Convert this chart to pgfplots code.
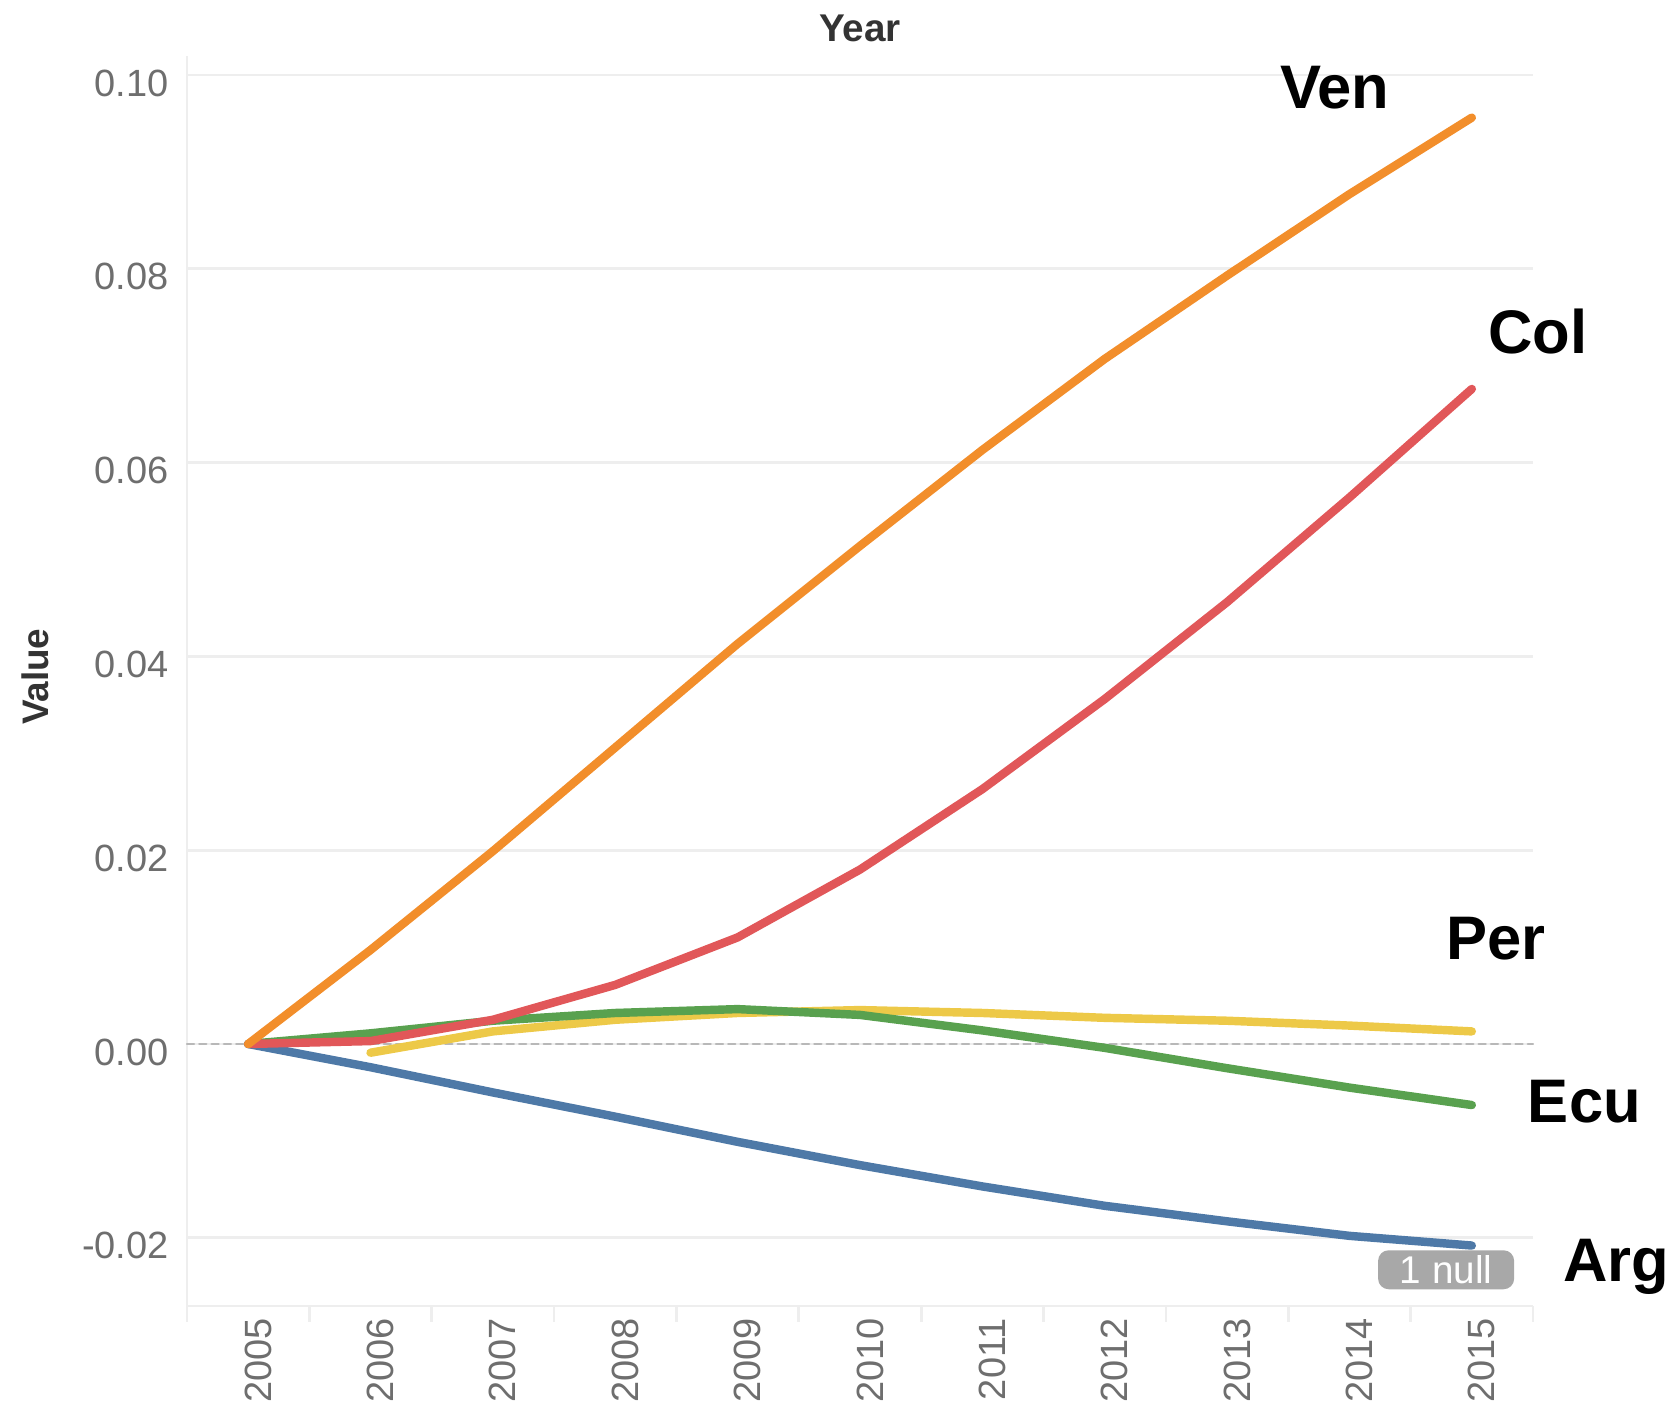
\documentclass[border=0pt]{standalone}
\usepackage{fontspec}
\setmainfont{Liberation Sans}
\usepackage{pgfplots}
\pgfplotsset{compat=1.18}

\definecolor{ven}{HTML}{F28E2B}
\definecolor{col}{HTML}{E15759}
\definecolor{ecu}{HTML}{59A14F}
\definecolor{per}{HTML}{EDC948}
\definecolor{arg}{HTML}{4E79A7}
\definecolor{gridc}{HTML}{EEEEEE}
\definecolor{tickc}{HTML}{6E6E6E}
\definecolor{titc}{HTML}{333333}
\definecolor{zeroc}{HTML}{B8B8B8}
\definecolor{nullc}{HTML}{A8A8A8}

\tikzset{lab/.style={anchor=base, font=\bfseries\fontsize{17.5}{20}\selectfont, text=black}}

\begin{document}
\begin{tikzpicture}
\begin{axis}[
    name=ax, at={(0,0)}, anchor=south west,
    scale only axis,
    width=13.46cm, height=12.50cm,
    xmin=2004.5, xmax=2015.5,
    ymin=-0.02704, ymax=0.10196,
    clip=false,
    axis lines*=left,
    axis line style={draw=gridc, line width=0.8pt},
    xtick={2005,2006,2007,2008,2009,2010,2011,2012,2013,2014,2015},
    xticklabels={2005,2006,2007,2008,2009,2010,2011,2012,2013,2014,2015},
    minor xtick={2004.5,2005.5,2006.5,2007.5,2008.5,2009.5,2010.5,2011.5,2012.5,2013.5,2014.5,2015.5},
    ytick={-0.02,0,0.02,0.04,0.06,0.08,0.10},
    yticklabels={-0.02,0.00,0.02,0.04,0.06,0.08,0.10},
    tick align=outside,
    major tick length=0pt,
    minor tick length=0.16cm,
    minor tick style={draw=gridc, line width=0.8pt},
    ymajorgrids,
    major grid style={gridc, line width=0.8pt},
    xticklabel style={rotate=90, anchor=east, font=\fontsize{10.8}{12}\selectfont, text=tickc, yshift=-0.1cm},
    yticklabel style={font=\fontsize{10.8}{12}\selectfont, text=tickc, xshift=-0.06cm, yshift=-0.08cm},
    every axis plot/.append style={line width=2.4pt, line cap=round, line join=round},
]
    % zero reference line
    \addplot[zeroc, line width=0.7pt, dash pattern=on 2pt off 1.5pt, forget plot] coordinates {(2004.5,0) (2015.5,0)};

    % Arg
    \addplot[arg] coordinates {
        (2005,0) (2006,-0.0024) (2007,-0.0050) (2008,-0.0075) (2009,-0.0101)
        (2010,-0.0125) (2011,-0.0147) (2012,-0.0167) (2013,-0.0183) (2014,-0.0198) (2015,-0.0208)
    };
    % Per (2005 is null)
    \addplot[per] coordinates {
        (2006,-0.0009) (2007,0.0013) (2008,0.0025) (2009,0.0032)
        (2010,0.0035) (2011,0.0032) (2012,0.0027) (2013,0.0024) (2014,0.0019) (2015,0.0013)
    };
    % Ecu
    \addplot[ecu] coordinates {
        (2005,0) (2006,0.0011) (2007,0.0024) (2008,0.0032) (2009,0.0036)
        (2010,0.0030) (2011,0.0014) (2012,-0.0004) (2013,-0.0025) (2014,-0.0045) (2015,-0.0063)
    };
    % Col
    \addplot[col] coordinates {
        (2005,0) (2006,0.0003) (2007,0.0025) (2008,0.0061) (2009,0.0110)
        (2010,0.0180) (2011,0.0263) (2012,0.0356) (2013,0.0456) (2014,0.0564) (2015,0.0676)
    };
    % Ven
    \addplot[ven] coordinates {
        (2005,0) (2006,0.0097) (2007,0.0199) (2008,0.0306) (2009,0.0413)
        (2010,0.0514) (2011,0.0613) (2012,0.0707) (2013,0.0793) (2014,0.0877) (2015,0.0956)
    };

    \node[lab] at (axis cs:2013.88,0.0965) {Ven};
    \node[lab] at (axis cs:2015.54,0.0713) {Col};
    \node[lab] at (axis cs:2015.20,0.0087) {Per};
    \node[lab] at (axis cs:2015.92,-0.0081) {Ecu};
    \node[lab] at (axis cs:2016.18,-0.0245) {Arg};

    \node[fill=nullc, rounded corners=3pt, text=white, inner sep=0pt,
          minimum width=1.36cm, minimum height=0.39cm,
          font=\fontsize{11}{12}\selectfont] at (axis cs:2014.79,-0.0233) {1 null};

    \node[anchor=base, font=\bfseries\fontsize{11}{12}\selectfont, text=titc] at (axis cs:2010,0.1035) {Year};
    \node[rotate=90, font=\bfseries\fontsize{10.5}{12}\selectfont, text=titc] at (axis cs:2003.26,0.0379) {Value};
\end{axis}
\pgfresetboundingbox
\path[use as bounding box] (-1.87,-1.10) rectangle (14.92,13.06);
\end{tikzpicture}
\end{document}
